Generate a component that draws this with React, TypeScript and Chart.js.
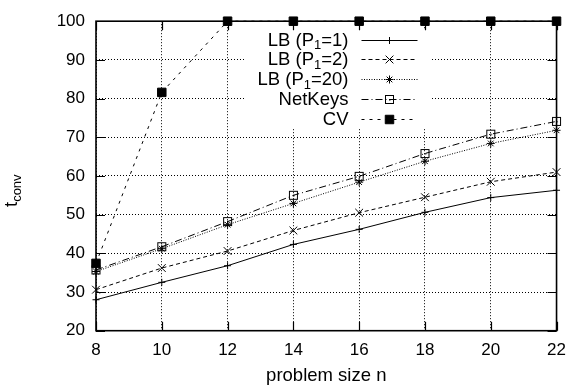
import React, { useEffect, useRef } from "react";
import { Chart, registerables, PointElement } from "chart.js";

Chart.register(...registerables);

const problemSizes = [8, 10, 12, 14, 16, 18, 20, 22];
const lbP1 = [28.0, 32.5, 36.8, 42.3, 46.2, 50.6, 54.4, 56.3];
const lbP2 = [30.6, 36.2, 40.6, 45.9, 50.5, 54.5, 58.5, 61.0];
const lbP20 = [35.3, 41.2, 47.4, 52.9, 58.4, 63.8, 68.4, 71.8];
const netKeys = [35.7, 41.7, 48.2, 55.0, 59.9, 65.8, 70.8, 74.1];
const cv = [37.4, 81.6, 100, 100, 100, 100, 100, 100];

// legend labels: [main, subscript, rest]
const legendParts: [string, string, string][] = [
  ["LB (P", "1", "=1)"],
  ["LB (P", "1", "=2)"],
  ["LB (P", "1", "=20)"],
  ["NetKeys", "", ""],
  ["CV", "", ""],
];
const yTitle = ["t", "conv"];
const xTitle = "problem size n";

const FONT = '"Liberation Sans", Arial, Helvetica, sans-serif';

function makeSquareDot(): HTMLCanvasElement {
  const c = document.createElement("canvas");
  c.width = 13;
  c.height = 13;
  const g = c.getContext("2d")!;
  g.strokeStyle = "#000";
  g.lineWidth = 1;
  g.strokeRect(2.5, 2.5, 8, 8);
  g.fillStyle = "#000";
  g.fillRect(6, 6, 1.5, 1.5);
  return c;
}

const toXY = (ys: number[]) => problemSizes.map((x, i) => ({ x, y: ys[i] }));

export default function App() {
  const ref = useRef<HTMLCanvasElement>(null);

  useEffect(() => {
    const canvas = ref.current!;
    const sq = makeSquareDot();

    const datasets: any[] = [
      { data: toXY(lbP1), borderDash: [], pointStyle: "cross", pointRadius: 3.5 },
      { data: toXY(lbP2), borderDash: [4, 3], pointStyle: "crossRot", pointRadius: 5.5 },
      { data: toXY(lbP20), borderDash: [1, 1.5], pointStyle: "star", pointRadius: 4 },
      { data: toXY(netKeys), borderDash: [7, 3, 1, 3], pointStyle: sq, pointRadius: 6 },
      { data: toXY(cv), borderDash: [3, 5], pointStyle: "rect", pointRadius: 6 },
    ].map((d, i) => ({
      ...d,
      label: legendParts[i].join(""),
      borderColor: "#000",
      backgroundColor: "#000",
      pointBorderColor: "#000",
      pointBackgroundColor: "#000",
      pointBorderWidth: 1,
      borderWidth: 1,
      tension: 0,
      clip: false,
    }));

    const framePlugin = {
      id: "frame",
      afterDatasetsDraw(chart: any) {
        const ctx = chart.ctx as CanvasRenderingContext2D;
        const a = chart.chartArea;
        const xs = chart.scales.x;
        const ys = chart.scales.y;
        ctx.save();
        // legend box (white)
        const boxL = 246, boxR = 430, boxT = 29, boxB = 129;
        ctx.fillStyle = "#fff";
        ctx.fillRect(boxL, boxT, boxR - boxL, boxB - boxT);
        // legend entries
        const rowY0 = 39.5, rowStep = 19.9;
        const textRight = 348.5, lineL = 361.5, lineR = 417.5, markX = 389.5;
        legendParts.forEach((parts, i) => {
          const ds = datasets[i];
          const y = rowY0 + i * rowStep;
          const [main, sub, rest] = parts;
          ctx.fillStyle = "#000";
          ctx.textBaseline = "middle";
          ctx.textAlign = "left";
          const mainFont = `18.5px ${FONT}`;
          const subFont = `13px ${FONT}`;
          ctx.font = mainFont;
          const wMain = ctx.measureText(main).width;
          const wRest = ctx.measureText(rest).width;
          ctx.font = subFont;
          const wSub = sub ? ctx.measureText(sub).width : 0;
          let x = textRight - wMain - wSub - wRest;
          ctx.font = mainFont;
          ctx.fillText(main, x, y + 1);
          x += wMain;
          if (sub) {
            ctx.font = subFont;
            ctx.fillText(sub, x, y + 6);
            x += wSub;
          }
          ctx.font = mainFont;
          ctx.fillText(rest, x, y + 1);
          // line sample
          ctx.strokeStyle = "#000";
          ctx.lineWidth = 1;
          ctx.setLineDash(ds.borderDash);
          ctx.beginPath();
          ctx.moveTo(lineL, Math.round(y) + 0.5);
          ctx.lineTo(lineR, Math.round(y) + 0.5);
          ctx.stroke();
          ctx.setLineDash([]);
          const pe: any = new PointElement({});
          pe.x = markX;
          pe.y = Math.round(y) + 0.5;
          pe.options = {
            pointStyle: ds.pointStyle,
            radius: ds.pointRadius,
            rotation: 0,
            borderWidth: 1,
            borderColor: "#000",
            backgroundColor: "#000",
          };
          pe.draw(ctx, { left: 0, top: 0, right: 575, bottom: 391 });
        });
        // frame
        ctx.strokeStyle = "#000";
        ctx.lineWidth = 1.6;
        ctx.setLineDash([]);
        ctx.strokeRect(a.left, a.top, a.right - a.left, a.bottom - a.top);
        // inward ticks
        const tl = 9;
        ctx.lineWidth = 1.2;
        ctx.beginPath();
        xs.ticks.forEach((t: any) => {
          const px = Math.round(xs.getPixelForValue(t.value)) + 0.5;
          ctx.moveTo(px, a.bottom);
          ctx.lineTo(px, a.bottom - tl);
          ctx.moveTo(px, a.top);
          ctx.lineTo(px, a.top + tl);
        });
        ys.ticks.forEach((t: any) => {
          const py = Math.round(ys.getPixelForValue(t.value)) + 0.5;
          ctx.moveTo(a.left, py);
          ctx.lineTo(a.left + tl, py);
          ctx.moveTo(a.right, py);
          ctx.lineTo(a.right - tl, py);
        });
        ctx.stroke();
        // y title with subscript (rotated)
        ctx.translate(17, 207);
        ctx.rotate(-Math.PI / 2);
        ctx.fillStyle = "#000";
        ctx.textAlign = "left";
        ctx.textBaseline = "alphabetic";
        ctx.font = `18.5px ${FONT}`;
        ctx.fillText(yTitle[0], 0, 0);
        const wt = ctx.measureText(yTitle[0]).width;
        ctx.font = `13px ${FONT}`;
        ctx.fillText(yTitle[1], wt, 4);
        ctx.restore();
      },
    };

    const chart = new Chart(canvas, {
      type: "line",
      data: { datasets },
      options: {
        animation: false,
        responsive: false,
        maintainAspectRatio: false,
        layout: { padding: { left: 0, top: 10, right: 12.3, bottom: 0 } },
        plugins: { legend: { display: false }, tooltip: { enabled: false } },
        scales: {
          x: {
            type: "linear",
            min: 8,
            max: 22,
            ticks: {
              stepSize: 2,
              color: "#000",
              font: { family: FONT, size: 17 },
              padding: 9,
            },
            grid: { color: "#000", lineWidth: 1, drawTicks: false },
            border: { display: false, dash: [1, 2] },
            title: {
              display: true,
              text: xTitle,
              color: "#000",
              font: { family: FONT, size: 18.5 },
              padding: { top: 0, bottom: 4 },
            },
            afterFit: (s: any) => {
              s.height = 391 - 330.7;
            },
          },
          y: {
            type: "linear",
            min: 20,
            max: 100,
            ticks: {
              stepSize: 10,
              color: "#000",
              font: { family: FONT, size: 17 },
              padding: 11,
            },
            grid: { color: "#000", lineWidth: 1, drawTicks: false },
            border: { display: false, dash: [1, 2] },
            afterFit: (s: any) => {
              s.width = 96;
            },
          },
        },
      },
      plugins: [framePlugin],
    } as any);

    return () => chart.destroy();
  }, []);

  return (
    <div style={{ position: "absolute", left: 0, top: 0, width: 575, height: 391, background: "#fff" }}>
      <canvas ref={ref} width={575} height={391} style={{ width: 575, height: 391, display: "block" }} />
    </div>
  );
}
